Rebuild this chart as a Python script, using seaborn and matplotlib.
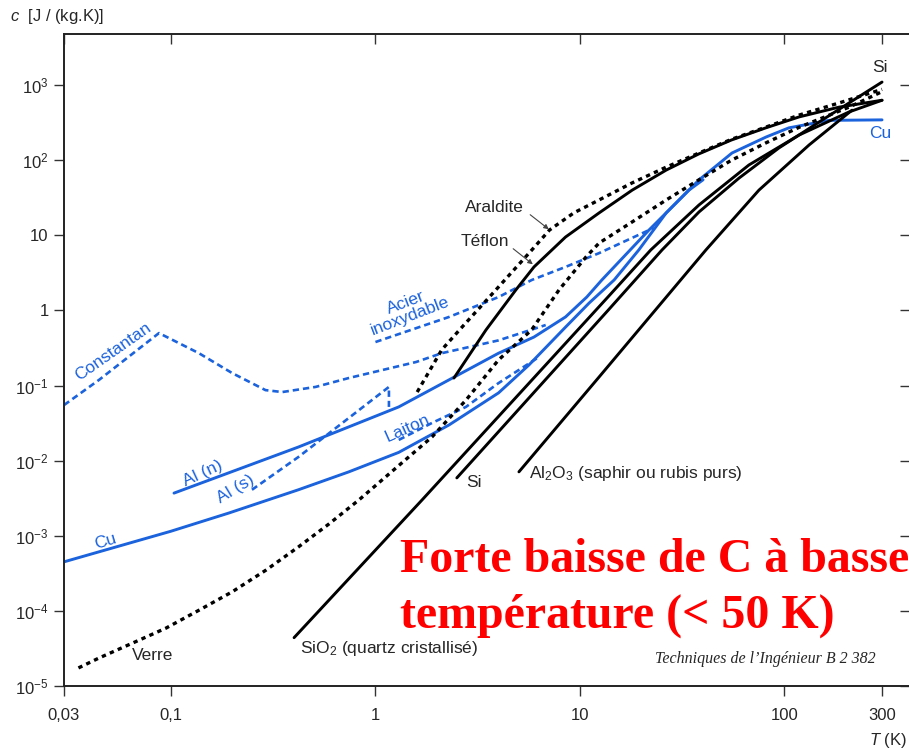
import matplotlib
matplotlib.use("Agg")
import matplotlib.pyplot as plt
import seaborn as sns

# values: T in K, c in J/(kg.K)
cu_T = [0.03, 0.1, 0.192, 0.42, 0.741, 1.3, 2.29, 4.0, 5.63, 8.5, 11.1, 14.7, 19.4, 26.4, 38.2, 55.4, 81.3, 105, 165, 300]
cu_c = [4.5e-4, 1.15e-3, 2.01e-3, 4.1e-3, 7.1e-3, 0.0129, 0.0299, 0.080, 0.188, 0.60, 1.26, 2.55, 6.4, 19.9, 54.7, 125, 204, 270, 340, 345]

al_n_T = [0.1035, 0.42, 1.3, 4.0, 5.96, 8.5, 10.8, 12.8, 21.7, 34.1, 40]
al_n_c = [3.7e-3, 0.0152, 0.052, 0.27, 0.443, 0.82, 1.51, 2.55, 11.7, 40, 55]

al_s_T = [0.249, 0.42, 1.164, 1.164]
al_s_c = [0.0041, 0.0112, 0.096, 0.052]

constantan_T = [0.03, 0.0445, 0.0874, 0.137, 0.199, 0.29, 0.35, 0.51, 0.74, 1.08, 1.58, 2.11, 4.0, 6.8]
constantan_c = [0.055, 0.119, 0.50, 0.27, 0.147, 0.087, 0.082, 0.096, 0.126, 0.161, 0.206, 0.27, 0.40, 0.64]

laiton_T = [1.30, 1.89, 2.77, 4.0, 6.3]
laiton_c = [0.0189, 0.0318, 0.052, 0.108, 0.24]

acier_T = [1.0, 2.29, 4.0, 5.82, 8.5, 12.4, 23]
acier_c = [0.38, 0.82, 1.51, 2.55, 3.8, 5.8, 12.6]

verre_T = [0.0353, 0.0445, 0.0645, 0.0946, 0.137, 0.199, 0.292, 0.42, 0.593, 0.83, 1.26, 1.89, 2.77, 4.0,
           5.8, 7.9, 10.7, 12.4, 18, 26.4, 38.2, 55, 81, 118, 207, 300]
verre_c = [1.74e-5, 2.36e-5, 3.7e-5, 5.9e-5, 1.02e-4, 1.79e-4, 3.5e-4, 7.1e-4, 1.44e-3, 3.0e-3, 8.0e-3, 0.0207,
           0.064, 0.22, 0.55, 1.88, 5.15, 7.9, 15.1, 29.6, 55, 100, 170, 275, 510, 820]

araldite_T = [1.6, 2.11, 2.65, 4.0, 5.82, 7.1, 9.35, 12.4, 18, 26.4, 38.2, 55, 81, 118, 185, 300]
araldite_c = [0.082, 0.30, 0.60, 2.06, 6.4, 11.8, 20, 29.6, 50, 81, 125, 190, 276, 400, 580, 880]

teflon_T = [2.42, 3.47, 4.86, 5.96, 8.5, 12.4, 18, 26.4, 38, 55, 81, 118, 185, 300]
teflon_c = [0.126, 0.55, 1.88, 3.8, 9.5, 19.9, 40, 74, 121, 186, 270, 378, 510, 630]

si_T = [2.5, 13.7, 25.2, 38.2, 60, 94, 148, 207, 300]
si_c = [0.0059, 1.0, 6.4, 20.5, 58, 146, 324, 580, 1100]

sio2_T = [0.40, 1.69, 13.7, 22.2, 38.2, 67, 118, 207, 300]
sio2_c = [4.4e-5, 3.0e-3, 1.51, 6.4, 25.4, 86.5, 217, 440, 630]

al2o3_T = [5.03, 12.4, 41.3, 75, 132, 214]
al2o3_c = [7.1e-3, 0.13, 6.4, 40, 160, 465]

x_ticks = [0.03, 0.1, 1, 10, 100, 300]
x_labels = ["0,03", "0,1", "1", "10", "100", "300"]
y_ticks = [1e-5, 1e-4, 1e-3, 1e-2, 1e-1, 1, 10, 1e2, 1e3]
y_labels = [r"$10^{-5}$", r"$10^{-4}$", r"$10^{-3}$", r"$10^{-2}$", r"$10^{-1}$",
            "1", "10", r"$10^{2}$", r"$10^{3}$"]

sns.set_style("ticks")
plt.rcParams["font.family"] = ["Liberation Sans", "DejaVu Sans"]
plt.rcParams["mathtext.fontset"] = "custom"
plt.rcParams["mathtext.rm"] = "Liberation Sans"
plt.rcParams["mathtext.it"] = "Liberation Sans:italic"

W, H = 909, 750
fig = plt.figure(figsize=(W / 100, H / 100), dpi=100)
ax = fig.add_axes([64 / W, 1 - 686 / H, 846 / W, 652 / H])
ax.set_xscale("log")
ax.set_yscale("log")

blue = "#1b62dd"
solid = dict(lw=2.1, linestyle="-")
dotted = dict(lw=2.4, linestyle=(0, (1.3, 1.3)))
dashed = dict(lw=1.9, linestyle=(0, (2.4, 1.5)))

sns.lineplot(x=cu_T, y=cu_c, ax=ax, color=blue, sort=False, estimator=None, **solid)
sns.lineplot(x=al_n_T, y=al_n_c, ax=ax, color=blue, sort=False, estimator=None, **solid)
sns.lineplot(x=al_s_T, y=al_s_c, ax=ax, color=blue, sort=False, estimator=None, **dashed)
sns.lineplot(x=constantan_T, y=constantan_c, ax=ax, color=blue, sort=False, estimator=None, **dashed)
sns.lineplot(x=laiton_T, y=laiton_c, ax=ax, color=blue, sort=False, estimator=None, **dashed)
sns.lineplot(x=acier_T, y=acier_c, ax=ax, color=blue, sort=False, estimator=None, **dashed)
sns.lineplot(x=verre_T, y=verre_c, ax=ax, color="black", sort=False, estimator=None, **dotted)
sns.lineplot(x=araldite_T, y=araldite_c, ax=ax, color="black", sort=False, estimator=None, **dotted)
sns.lineplot(x=teflon_T, y=teflon_c, ax=ax, color="black", sort=False, estimator=None, **solid)
sns.lineplot(x=si_T, y=si_c, ax=ax, color="black", sort=False, estimator=None, **solid)
sns.lineplot(x=sio2_T, y=sio2_c, ax=ax, color="black", sort=False, estimator=None, **solid)
sns.lineplot(x=al2o3_T, y=al2o3_c, ax=ax, color="black", sort=False, estimator=None, **solid)

ax.set_xlim(0.03, 411)
ax.set_ylim(1e-5, 4800)
ax.set_xticks(x_ticks)
ax.set_xticklabels(x_labels)
ax.set_yticks(y_ticks)
ax.set_yticklabels(y_labels)
ax.minorticks_off()
ax.tick_params(axis="both", labelsize=12, length=7, width=1, color="#333333")
ax.tick_params(axis="x", pad=9)
ax.tick_params(axis="y", pad=4)
ax.tick_params(top=True, right=True, labeltop=False, labelright=False)
for t in ax.xaxis.get_major_ticks():
    t.tick2line.set_marker(3)  # inward on top
for t in ax.yaxis.get_major_ticks():
    t.tick2line.set_marker(0)  # inward on right
ax.set_xlabel("")
ax.set_ylabel("")
for s in ax.spines.values():
    s.set_linewidth(1.4)
    s.set_color("#222222")


def put(x, y, s, **kw):
    kw.setdefault("ha", "center")
    kw.setdefault("va", "center")
    kw.setdefault("fontsize", 12.5)
    fig.text(x / W, 1 - y / H, s, rotation_mode="anchor", **kw)


put(10, 16, r"$\mathit{c}$  [J / (kg.K)]", ha="left", fontsize=12)
put(869, 740, r"$\mathit{T}$ (K)", ha="left", fontsize=12)

put(113, 352, "Constantan", color=blue, rotation=35)
put(408, 309, "Acier\ninoxydable", color=blue, rotation=21, linespacing=0.95)
put(203, 473, "Al (n)", color=blue, rotation=25)
put(236, 489, "Al (s)", color=blue, rotation=31)
put(407, 428, "Laiton", color=blue, rotation=24)
put(105, 541, "Cu", color=blue, rotation=17)
put(880, 133, "Cu", color=blue)
put(880, 68, "Si")
put(474, 482, "Si")
put(529, 473, r"Al$_2$O$_3$ (saphir ou rubis purs)", ha="left")
put(300, 648, r"SiO$_2$ (quartz cristallisé)", ha="left")
put(153, 655, "Verre")
put(465, 207, "Araldite", ha="left")
put(461, 241, "Téflon", ha="left")

arrow = dict(arrowstyle="-|>", lw=0.8, color="#444444", mutation_scale=7)
ax.annotate("", xy=(551, H - 231), xytext=(528, H - 213), xycoords="figure pixels",
            textcoords="figure pixels", arrowprops=arrow)
ax.annotate("", xy=(535, H - 266), xytext=(511, H - 247), xycoords="figure pixels",
            textcoords="figure pixels", arrowprops=arrow)

red = dict(color="#ff0000", fontsize=34.5, fontweight="bold", family="Liberation Serif",
           ha="left", va="baseline")
put(400, 572, "Forte baisse de C à basse", **red)
put(400, 628, "température (< 50 K)", **red)
put(655, 659, "Techniques de l’Ingénieur B 2 382", ha="left", fontsize=11.5,
    family="Liberation Serif", style="italic")

fig.savefig("out.png", dpi=100)
